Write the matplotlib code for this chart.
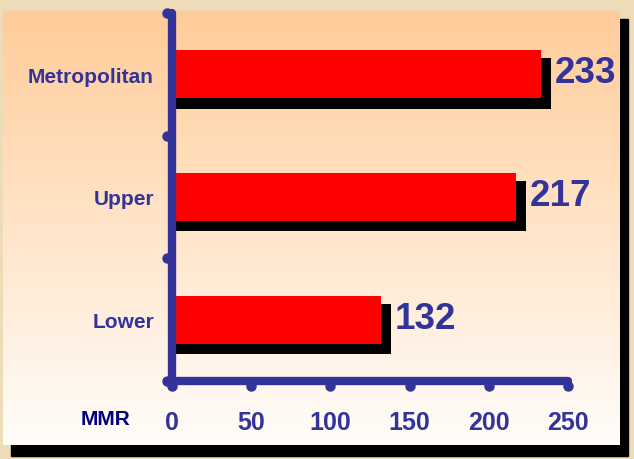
import matplotlib
matplotlib.use('Agg')
import matplotlib.pyplot as plt
from matplotlib.patches import Rectangle
from matplotlib.transforms import offset_copy
import numpy as np

plt.rcParams['font.family'] = ['Liberation Sans', 'DejaVu Sans']

# Data
categories = ['Lower', 'Upper', 'Metropolitan']
mmr = [132, 217, 233]
xticks = [0, 50, 100, 150, 200, 250]

navy = '#333399'
W, H = 634, 460

fig = plt.figure(figsize=(W / 100, H / 100), dpi=100)
fig.patch.set_facecolor('#EEDBB8')

# Background panel with shadow and gradient
bg = fig.add_axes([0, 0, 1, 1])
bg.set_xlim(0, W)
bg.set_ylim(H, 0)
bg.axis('off')
bg.add_patch(Rectangle((11, 20), 617, 437, color='black', zorder=0))
top = np.array([255, 204, 153]) / 255
bottom = np.array([255, 253, 250]) / 255
t = np.linspace(0, 1, 256)[:, None]
grad = (top * (1 - t) + bottom * t)[:, None, :]
bg.imshow(grad, extent=[3, 620, 446, 12], aspect='auto', zorder=1)

# Main axes
ax = fig.add_axes([172 / W, 78 / H, 396 / W, 368 / H])
ax.patch.set_alpha(0)
ypos = np.arange(len(categories))
# shadow bars (offset right and down), then red bars
ax.barh(ypos - 0.075, [v + 6.3 for v in mmr], height=0.41, color='black', zorder=2)
ax.barh(ypos, mmr, height=0.39, color='#FF0000', zorder=3)

for y, v in zip(ypos, mmr):
    ax.annotate(str(v), (v, y), xytext=(10, 1), textcoords='offset points',
                ha='left', va='center', fontsize=26.5, fontweight='bold', color=navy)

ax.set_xlim(0, 250)
ax.set_ylim(-0.5, len(categories) - 0.5)
ax.set_xticks(xticks)
ax.set_yticks(ypos)
ax.set_yticklabels(categories)
ax.tick_params(axis='both', length=0, colors=navy)
ax.tick_params(axis='y', pad=13, labelsize=15)
ax.tick_params(axis='x', pad=21, labelsize=18)
for lab in ax.get_xticklabels() + ax.get_yticklabels():
    lab.set_fontweight('bold')

for side in ['top', 'right']:
    ax.spines[side].set_visible(False)
for side in ['left', 'bottom']:
    ax.spines[side].set_color(navy)
    ax.spines[side].set_linewidth(6)
    ax.spines[side].set_capstyle('round')
    ax.spines[side].set_zorder(4)

# round tick dots
xtr = offset_copy(ax.get_xaxis_transform(), fig=fig, y=-5, units='dots')
ax.plot(xticks, [0] * len(xticks), 'o', ms=6.5, color=navy, transform=xtr, clip_on=False, zorder=5)
ytr = offset_copy(ax.get_yaxis_transform(), fig=fig, x=-5, units='dots')
bounds = np.arange(-0.5, len(categories), 1.0)
ax.plot([0] * len(bounds), bounds, 'o', ms=6.5, color=navy, transform=ytr, clip_on=False, zorder=5)

fig.text(105 / W, 1 - 420 / H, 'MMR', ha='center', va='center',
         fontsize=15, fontweight='bold', color='#000080')

fig.savefig('out.png', dpi=100, facecolor=fig.get_facecolor())
